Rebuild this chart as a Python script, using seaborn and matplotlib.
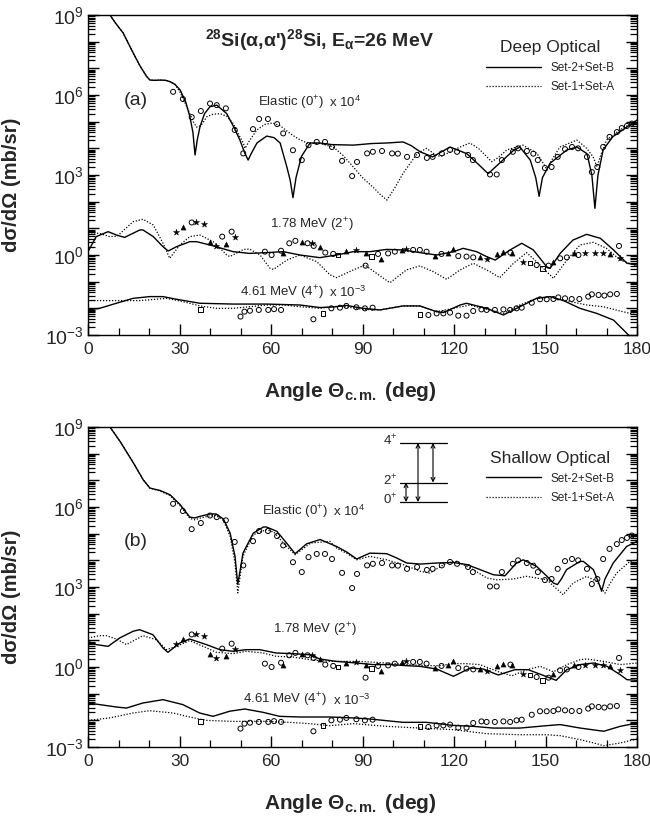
import numpy as np
import matplotlib
matplotlib.use("Agg")
import matplotlib.pyplot as plt
from matplotlib.ticker import FixedLocator, FuncFormatter, LogLocator, MultipleLocator, NullFormatter
import seaborn as sns

# all y values below are log10 of the plotted dsigma/dOmega (mb/sr), scaling factors included

# ---- experimental data (same in both panels) ----
el_ang = [27.9, 31.1, 34.0, 37.0, 40.0, 42.2, 45.2, 48.1, 50.9, 54.1, 56.1, 59.0, 62.0, 64.0, 67.2,
          70.1, 72.3, 75.0, 77.7, 80.0, 83.3, 86.6, 88.2, 91.5, 93.4, 96.4, 99.7, 101.6, 104.6, 107.9,
          111.1, 113.0, 116.0, 118.7, 121.0, 124.6, 126.2, 131.8, 134.0, 135.7, 139.3, 141.0, 143.9,
          146.0, 147.5, 149.8, 152.0, 154.0, 156.4, 158.7, 160.7, 163.6, 165.2, 167.0, 168.9, 171.0,
          173.4, 175.0, 176.7, 178.3]
el_log = [6.12, 5.85, 5.17, 5.4, 5.68, 5.62, 5.5, 4.69, 3.81, 4.72, 5.1, 5.1, 4.91, 4.56, 3.93,
          3.56, 4.12, 4.24, 4.24, 4.05, 3.53, 2.96, 3.49, 3.81, 3.87, 3.9, 3.81, 3.8, 3.68, 3.75,
          3.64, 3.68, 3.81, 3.94, 3.87, 3.75, 3.56, 3.02, 3.02, 3.56, 3.87, 4.0, 3.9,
          3.8, 3.56, 3.26, 3.3, 3.68, 3.97, 4.05, 4.0, 3.68, 3.11, 3.3, 4.05, 4.43,
          4.61, 4.76, 4.84, 4.93]

ex2_circ_ang = [34.0, 44.0, 47.1, 58.0, 60.2, 63.3, 66.0, 68.0, 72.0, 74.0, 77.8, 80.4, 91.0, 95.1,
                98.4, 100.6, 106.6, 108.8, 111.0, 115.9, 121.4, 124.1, 126.3, 138.5, 147.1, 151.0,
                154.8, 157.0, 160.8, 174.1]
ex2_circ_log = [1.22, 0.69, 0.875, 0.125, 0.0, 0.16, 0.44, 0.53, 0.44, 0.34, 0.09, 0.04, -0.4, 0.04,
                0.06, 0.125, 0.19, 0.19, 0.125, 0.04, -0.04, -0.06, -0.09, 0.09, -0.375, -0.4,
                -0.125, -0.09, 0.0, 0.34]
ex2_tri_ang = [31.0, 40.0, 45.2, 64.0, 70.0, 76.0, 84.7, 91.3, 96.2, 102.8, 113.7, 118.0, 119.8,
               128.5, 134.0, 136.2, 138.9, 152.6, 159.2, 171.2]
ex2_tri_log = [1.06, 0.5, 0.4, 0.06, 0.5, 0.3, 0.16, 0.09, -0.16, 0.19, -0.04, 0.09, 0.21,
               -0.09, 0.04, 0.125, 0.09, -0.25, 0.06, 0.04]
ex2_star_ang = [29.0, 35.3, 38.0, 42.0, 48.2, 73.4, 88.0, 104.4, 130.7, 142.7, 163.0, 166.3, 169.0, 174.4]
ex2_star_log = [0.85, 1.24, 1.15, 0.35, 0.66, 0.46, 0.19, 0.21, -0.14, -0.25, 0.06, 0.06, 0.06, -0.125]
ex2_sq_ang = [82.0, 93.0, 145.0, 149.0]
ex2_sq_log = [0.0, -0.06, -0.31, -0.5]

ex4_circ_ang = [50.0, 51.3, 53.1, 56.0, 59.1, 61.0, 63.3, 73.9, 79.8, 82.6, 84.7, 88.0, 90.8, 93.3,
                111.6, 114.3, 116.5, 118.7, 121.4, 124.1, 126.3, 129.0, 130.7, 133.4, 136.2, 138.4,
                140.5, 142.2, 145.5, 148.2, 150.4, 152.6, 154.2, 156.4, 158.6, 161.1, 164.0, 165.2,
                167.4, 169.3, 171.2, 173.4]
ex4_circ_log = [-2.31, -2.125, -2.09, -2.06, -2.06, -2.03, -2.06, -2.41, -2.0, -1.975, -1.91, -1.96, -2.0, -1.975,
                -2.25, -2.19, -2.19, -2.16, -2.275, -2.275, -2.1, -2.04, -2.06, -2.06, -2.04, -2.06,
                -2.0, -1.975, -1.79, -1.66, -1.66, -1.65, -1.59, -1.625, -1.65, -1.65, -1.56, -1.475,
                -1.5, -1.52, -1.475, -1.46]
ex4_sq_ang = [36.9, 77.0, 108.8]
ex4_sq_log = [-2.04, -2.19, -2.225]

# ---- (a) deep optical calculations ----
a_el_s2b_ang = [6, 7.2, 9, 11.5, 14.8, 17, 19.2, 20.3, 22, 23.6, 25.5, 26.9, 28.5, 30.2, 32, 33.4, 34.4,
                35.1, 35.8, 36.7, 38.2, 40, 42.2, 45.5, 48, 49.8, 51.5, 52.5, 53.5, 55.4, 58.6, 61, 63,
                65.2, 66.3, 67.2, 68.2, 70, 72.8, 76, 80, 87, 93, 98, 103.3, 106, 108.9, 113, 118.7,
                124.2, 128, 131.2, 135, 139.3, 141.6, 145, 146.8, 147.9, 149, 151.5, 157, 160.3, 163.6,
                165.2, 166.2, 167.2, 168.9, 172, 176.7, 180]
a_el_s2b_log = [9.3, 9.0, 8.7, 8.33, 7.58, 7.1, 6.7, 6.56, 6.55, 6.56, 6.55, 6.5, 6.4, 6.19, 5.75, 5.19, 4.6,
                3.75, 4.3, 4.8, 5.3, 5.56, 5.62, 5.3, 4.75, 4.31, 3.8, 3.56, 3.8, 4.2, 4.46, 4.4, 4.2,
                3.3, 2.8, 2.15, 2.9, 3.7, 4.2, 4.2, 4.14, 4.12, 4.18, 4.2, 4.24, 4.1, 3.87, 3.68, 4.05,
                3.8, 3.4, 3.05, 3.45, 3.9, 4.05, 3.56, 2.9, 2.2, 2.9, 3.44, 3.94, 4.05, 3.8,
                3.0, 1.75, 3.0, 3.94, 4.43, 4.8, 5.06]
a_el_s1a_ang = [6, 7.2, 9, 11.5, 14.8, 17, 19.2, 20.3, 22, 23.6, 25.5, 26.9, 28.5, 30.2, 32.4, 34.5, 35.6,
                37, 39, 41, 43.3, 45.5, 47.6, 49.5, 50.9, 51.5, 53, 55.4, 58, 60.5, 63, 66.2, 69, 71.8,
                76, 80.4, 83.5, 87, 90, 93.4, 96, 98, 100.5, 103.3, 107.9, 111, 114.4, 115.7, 118.5,
                122, 125.2, 128, 130.8, 132.3, 134.5, 137.3, 142.6, 147.2, 149.5, 150.5, 152, 154.7,
                160.3, 163.5, 165.6, 166.9, 168, 170, 174.4, 180]
a_el_s1a_log = [9.3, 9.0, 8.7, 8.33, 7.58, 7.1, 6.7, 6.56, 6.55, 6.56, 6.55, 6.5, 6.4, 6.1, 5.56, 5.0, 4.8,
                4.85, 5.19, 5.28, 5.3, 5.2, 4.93, 4.5, 4.2, 4.0, 4.3, 4.69, 4.9, 4.95, 4.85, 4.56, 4.35, 4.2,
                4.18, 4.05, 3.75, 3.3, 2.9, 2.55, 2.25, 2.06, 2.5, 3.06, 3.8, 4.0, 3.72, 3.7, 3.85,
                4.05, 4.2, 4.0, 3.68, 3.5, 3.65, 3.94, 4.12, 3.81, 3.4, 3.18, 3.55, 4.05,
                4.31, 4.0, 3.68, 3.31, 3.7, 4.31, 4.69, 5.06]
a_2p_s2b_ang = [0, 2.7, 6.6, 9.3, 12, 17, 18, 21.4, 24.6, 26.3, 29, 33.4, 35.6, 40, 47.6, 53, 58.6, 64,
                69.5, 76, 81.5, 87, 92.4, 97.9, 103.3, 108.8, 114.3, 119.8, 123, 127.4, 130.5, 133.5,
                138.4, 142.2, 146, 150.4, 151.5, 154.8, 159, 163.5, 168, 172.3, 176.7, 180]
a_2p_s2b_log = [0.125, 0.69, 0.875, 0.75, 0.66, 0.94, 0.94, 0.69, 0.31, 0.15, 0.31, 0.5, 0.5, 0.375, 0.125,
                0.06, 0.09, 0.125, 0.0, -0.1, 0.0, 0.125, 0.125, 0.21, 0.19, 0.09, 0.0, 0.125, 0.25,
                0.125, -0.05, -0.19, 0.19, 0.44, 0.19, -0.44, -0.5, 0.06, 0.56, 0.775, 0.625, 0.19,
                -0.31, -0.375]
a_2p_s1a_ang = [0, 3.8, 7.1, 9.5, 14.8, 18, 21.4, 24.6, 26.8, 30.1, 33.4, 36.7, 41, 45.5, 46.5, 51, 53,
                56.4, 59.7, 60.8, 65.2, 69.5, 75, 79.4, 81.5, 87, 90.8, 94.6, 99, 104.4, 108.8, 113.2,
                117.6, 122, 126.3, 131.8, 135, 139.5, 143.8, 148.2, 152.6, 157, 161.3, 165.7, 170,
                174.5, 180]
a_2p_s1a_log = [0.84, 0.81, 0.69, 0.7, 1.25, 1.34, 1.125, 0.44, -0.125, 0.375, 0.69, 0.75, 0.5, 0.0, -0.06,
                0.21, 0.22, 0.0, -0.5, -0.54, -0.19, 0.0, -0.25, -0.75, -0.85, -0.56, -0.375, -0.69,
                -1.04, -0.56, -0.41, -0.625, -0.91, -0.56, -0.31, -0.625, -0.85, -0.31, 0.09, -0.375,
                -0.875, -0.19, 0.375, 0.475, 0.25, -0.19, -0.41]
a_4p_s2b_ang = [0, 3.8, 9.3, 14.8, 20.3, 24.6, 29, 36.7, 47.6, 58.6, 69.5, 76, 81.5, 84.7, 90.2, 95.7,
                103.3, 108.8, 114.3, 116.5, 122, 124.1, 130.7, 136.2, 141.6, 147.1, 151.5, 155.9,
                161.3, 166.8, 172.3, 176.7, 179, 180]
a_4p_s2b_log = [-2.06, -2.0, -1.81, -1.625, -1.56, -1.56, -1.66, -1.81, -1.84, -1.84, -1.875, -1.97, -1.94,
                -1.89, -2.0, -2.06, -1.91, -1.91, -2.125, -2.16, -1.875, -1.81, -2.0, -2.25, -1.94,
                -1.625, -1.56, -1.71, -2.0, -2.19, -2.44, -2.94, -3.2, -3.3]
a_4p_s1a_ang = [0, 9.3, 17, 25.7, 31.2, 36.7, 42.2, 47.6, 53, 58.6, 64, 69.5, 76, 82.6, 90.2, 95.7, 103.3,
                108.8, 114.3, 119.8, 125.2, 130.7, 136.2, 141.6, 147.1, 151.5, 155.9, 163.5, 169,
                174.4, 180]
a_4p_s1a_log = [-1.71, -1.71, -1.71, -1.625, -1.75, -1.91, -2.0, -2.0, -1.94, -1.875, -1.875, -1.94, -2.0,
                -1.91, -2.04, -2.06, -1.91, -1.91, -2.125, -2.0, -1.875, -2.04, -2.19, -1.875, -1.625,
                -1.59, -1.69, -1.875, -1.94, -2.1, -2.25]

# ---- (b) shallow optical calculations ----
b_el_s2b_ang = [6, 7.2, 10.5, 14.9, 18.1, 20.3, 23.6, 26.9, 30.2, 33.4, 35, 36.7, 40, 42, 44.4, 46.6,
                48.2, 49.1, 50, 50.8, 54.2, 57.5, 58.5, 61.9, 65.1, 67.9, 71.7, 76.1, 81.5, 85, 88.1,
                92.4, 97.9, 101, 104.5, 108.9, 114.4, 119.8, 124.2, 128.6, 132.9, 136.7, 140.5, 142.7,
                147.1, 150.5, 152.6, 153.9, 155.2, 156.9, 161.3, 162.4, 165.7, 167.3, 168.4, 169.5,
                172.2, 176.6, 180]
b_el_s2b_log = [9.3, 9.0, 8.46, 7.65, 7.02, 6.71, 6.62, 6.46, 6.09, 5.62, 5.59, 5.65, 5.74, 5.74, 5.55, 5.02,
                4.15, 3.1, 3.7, 4.27, 5.02, 5.25, 5.25, 5.09, 4.65, 4.25, 4.62, 4.78, 4.52, 4.3, 4.05,
                4.27, 4.25, 4.1, 3.9, 3.86, 3.9, 3.92, 3.84, 3.65, 3.46, 3.42, 3.9, 4.02,
                3.77, 3.4, 3.15, 3.09, 3.3, 3.65, 3.96, 3.96, 3.65, 3.2, 2.84, 3.3,
                3.9, 4.52, 4.71]
b_el_s1a_ang = [6, 7.2, 10.5, 14.9, 18.1, 20.3, 23.6, 26.9, 30.2, 33.4, 35, 36.7, 40, 42, 44.4, 46.6,
                48.2, 49.1, 50, 50.8, 54.2, 58.5, 61, 64, 67.9, 73, 79.3, 81.5, 85, 88.1, 92.4, 97.9,
                103.3, 108.9, 112, 117.6, 120.9, 126.3, 130.7, 134, 139.4, 143.8, 150.4, 153, 155.8,
                157.5, 159.1, 163.5, 166.8, 169.5, 171, 173.3, 177.7, 180]
b_el_s1a_log = [9.3, 9.0, 8.46, 7.65, 7.02, 6.71, 6.6, 6.43, 6.05, 5.57, 5.52, 5.58, 5.67, 5.68, 5.5, 4.9,
                3.9, 2.78, 3.5, 4.15, 4.96, 5.15, 5.05, 4.65, 4.21, 4.65, 4.71, 4.46, 4.25, 4.02, 4.15, 4.02,
                3.84, 3.59, 3.52, 3.9, 3.96, 3.65, 3.34, 3.27, 3.3, 3.4, 3.27, 3.0, 2.71,
                2.95, 3.15, 3.4, 3.21, 2.77, 3.1, 3.52, 3.96, 4.02]
b_2p_s2b_ang = [0, 2.7, 6.6, 10.4, 14.8, 16.9, 21.3, 24.6, 26.2, 30.1, 33.3, 38.8, 43.2, 47.5, 51.9, 56.3,
                61.7, 67.2, 72.7, 76, 81.5, 88, 93.5, 99, 104.4, 108.8, 114.3, 119.8, 125.3, 129.6,
                134.5, 140, 144.3, 148.7, 153.5, 157, 161.4, 165.7, 170.2, 174.5, 176.7, 180]
b_2p_s2b_log = [0.96, 0.84, 0.775, 1.09, 1.34, 1.4, 1.21, 0.71, 0.55, 0.9, 1.05, 0.84, 0.65, 0.59, 0.65,
                0.65, 0.525, 0.5, 0.46, 0.3, 0.21, 0.15, 0.09, 0.09, 0.05, 0.025, -0.075, -0.35, -0.04,
                -0.075, -0.3, -0.1, -0.1, -0.29, -0.5, -0.1, 0.09, 0.15, 0.025, -0.29, -0.475, -0.5]
b_2p_s1a_ang = [0, 3.8, 6, 9.3, 12.6, 18, 22.4, 25.7, 29, 33.3, 37.7, 42.1, 47.5, 51.9, 57.4, 61.7, 67.2,
                72.7, 79.2, 82.6, 89.1, 97.9, 104.4, 111, 115.4, 119.8, 124.2, 128.5, 135.1, 139, 143.9,
                148.3, 152.6, 157, 161.4, 163.6, 169.1, 174.5, 180]
b_2p_s1a_log = [1.09, 1.175, 1.175, 1.05, 0.84, 1.175, 1.025, 0.65, 0.775, 0.99, 0.775, 0.55, 0.5, 0.59,
                0.525, 0.4, 0.375, 0.275, 0.21, 0.21, 0.21, 0.15, 0.09, 0.05, 0.05, 0.125, 0.125, 0.09,
                -0.2, -0.33, -0.1, 0.025, -0.18, 0.09, 0.275, 0.3, 0.21, 0.09, 0.15]
b_4p_s2b_ang = [0, 3.8, 9.3, 12.6, 18, 24.6, 31.1, 36.6, 41, 46.4, 51.4, 57.4, 62.8, 69.4, 79.2, 87, 92.4,
                103.3, 111, 119.8, 126.3, 132.8, 141.6, 150.4, 154.8, 161.4, 166.8, 169.1, 174.5, 180]
b_4p_s2b_log = [-1.35, -1.41, -1.5, -1.54, -1.35, -1.225, -1.41, -1.725, -1.85, -1.66, -1.575, -1.7, -1.85,
                -1.875, -1.875, -1.91, -1.95, -2.075, -2.075, -2.19, -2.225, -2.29, -2.29, -2.2, -2.16,
                -2.29, -2.375, -2.41, -2.225, -2.1]
b_4p_s1a_ang = [0, 7.1, 14.8, 20.2, 27.9, 33.3, 38.8, 47.5, 58.5, 66.1, 72.7, 79.2, 87, 97.9, 108.8, 119.8,
                130.7, 141.6, 150.4, 154.8, 161.4, 166.8, 169, 174.5, 180]
b_4p_s1a_log = [-2.0, -1.91, -1.725, -1.64, -1.725, -1.875, -2.0, -2.04, -2.04, -2.075, -2.125, -2.2,
                -2.125, -2.225, -2.29, -2.35, -2.5, -2.54, -2.54, -2.575, -2.725, -2.875, -2.95, -2.85, -2.7]

levels = ["0$^{+}$", "2$^{+}$", "4$^{+}$"]
level_y = [0.0, 0.33, 1.0]   # relative heights in the level scheme

sns.set_style("ticks")
plt.rcParams["font.family"] = ["Liberation Sans", "DejaVu Sans"]
plt.rcParams["mathtext.fontset"] = "custom"
plt.rcParams["mathtext.rm"] = "Liberation Sans"
plt.rcParams["mathtext.it"] = "Liberation Sans:italic"
plt.rcParams["mathtext.bf"] = "Liberation Sans:bold"

fig = plt.figure(figsize=(6.5, 8.23), dpi=100)
ax_a = fig.add_axes([88 / 650, 1 - 335 / 823, 549 / 650, 320 / 823])
ax_b = fig.add_axes([88 / 650, 1 - 747 / 823, 549 / 650, 320 / 823])

dots = (0, (1, 1.4))


def curve(ax, ang, lg, dotted=False, label=None):
    sns.lineplot(x=ang, y=10 ** np.array(lg), ax=ax, color="black", lw=0.9 if dotted else 1.0,
                 linestyle=dots if dotted else "-", estimator=None, sort=False, label=label)


def exp_points(ax):
    open_kw = dict(facecolor="none", edgecolor="black", linewidth=0.7, ax=ax, zorder=3)
    sns.scatterplot(x=el_ang, y=10 ** np.array(el_log), marker="o", s=13, **open_kw)
    sns.scatterplot(x=ex2_circ_ang, y=10 ** np.array(ex2_circ_log), marker="o", s=13, **open_kw)
    sns.scatterplot(x=ex2_sq_ang, y=10 ** np.array(ex2_sq_log), marker="s", s=10, **open_kw)
    sns.scatterplot(x=ex4_circ_ang, y=10 ** np.array(ex4_circ_log), marker="o", s=13, **open_kw)
    sns.scatterplot(x=ex4_sq_ang, y=10 ** np.array(ex4_sq_log), marker="s", s=10, **open_kw)
    sns.scatterplot(x=ex2_tri_ang, y=10 ** np.array(ex2_tri_log), marker="^", s=14, color="black",
                    edgecolor="black", linewidth=0.3, ax=ax, zorder=3)
    sns.scatterplot(x=ex2_star_ang, y=10 ** np.array(ex2_star_log), marker="*", s=22, color="black",
                    edgecolor="black", linewidth=0.3, ax=ax, zorder=3)


def style_axes(ax):
    ax.set_yscale("log")
    ax.set_xlim(0, 180)
    ax.set_ylim(1e-3, 1e9)
    ax.xaxis.set_major_locator(MultipleLocator(30))
    ax.xaxis.set_minor_locator(MultipleLocator(10))
    ax.yaxis.set_major_locator(FixedLocator(10.0 ** np.arange(-3, 10)))
    ax.yaxis.set_major_formatter(FuncFormatter(
        lambda v, p: r"10$^{%d}$" % round(np.log10(v)) if round(np.log10(v)) % 3 == 0 else ""))
    ax.yaxis.set_minor_locator(LogLocator(base=10, subs=np.arange(2, 10), numticks=100))
    ax.yaxis.set_minor_formatter(NullFormatter())
    ax.tick_params(which="both", direction="in", left=True, bottom=True, right=True, top=False,
                   color="black")
    ax.tick_params(which="major", length=8, width=1.0)
    ax.tick_params(which="minor", length=5, width=0.9)
    ax.tick_params(axis="x", which="major", labelsize=12.5, pad=5)
    ax.tick_params(axis="y", which="major", labelsize=14, pad=3)
    for sp in ax.spines.values():
        sp.set_visible(True)
        sp.set_linewidth(1.0)
        sp.set_color("black")
    ax.set_xlabel(r"Angle Θ$_{\mathbf{c.m.}}$ (deg)", fontsize=15, fontweight="bold")
    ax.xaxis.set_label_coords(0.477, -0.14)
    ax.set_ylabel("dσ/dΩ (mb/sr)", fontsize=14.5, fontweight="bold")
    ax.yaxis.set_label_coords(-0.122, 0.47)


for ax, tag, title, curves in [
    (ax_a, "(a)", "Deep Optical",
     [(a_el_s2b_ang, a_el_s2b_log, a_el_s1a_ang, a_el_s1a_log),
      (a_2p_s2b_ang, a_2p_s2b_log, a_2p_s1a_ang, a_2p_s1a_log),
      (a_4p_s2b_ang, a_4p_s2b_log, a_4p_s1a_ang, a_4p_s1a_log)]),
    (ax_b, "(b)", "Shallow Optical",
     [(b_el_s2b_ang, b_el_s2b_log, b_el_s1a_ang, b_el_s1a_log),
      (b_2p_s2b_ang, b_2p_s2b_log, b_2p_s1a_ang, b_2p_s1a_log),
      (b_4p_s2b_ang, b_4p_s2b_log, b_4p_s1a_ang, b_4p_s1a_log)])]:
    for i, (sx, sy, dx, dy) in enumerate(curves):
        curve(ax, sx, sy, label="Set-2+Set-B" if i == 0 else None)
        curve(ax, dx, dy, dotted=True, label="Set-1+Set-A" if i == 0 else None)
    exp_points(ax)
    style_axes(ax)
    h, l = ax.get_legend_handles_labels()
    leg = ax.legend(h[:2], l[:2], title=title, loc="upper left", frameon=False,
                    bbox_to_anchor=(0.715, 0.94 if tag == "(a)" else 0.945), borderpad=0,
                    handlelength=4.6, handletextpad=0.8, labelspacing=0.6, fontsize=8.5,
                    title_fontsize=12.5)
    ax.text(15.7, 10 ** 5.8 if tag == "(a)" else 10 ** 4.7, tag, fontsize=14, ha="center", va="center")

small = 9.5
# panel (a) labels
ax_a.text(76, 10 ** 8.05, r"$^{\mathbf{28}}$Si(α,α')$^{\mathbf{28}}$Si, E$_{\mathbf{α}}$=26 MeV",
          fontsize=14, fontweight="bold", ha="center", va="center")
ax_a.text(55.7, 10 ** 5.7, "Elastic (0$^{+}$)", fontsize=small, va="center")
ax_a.text(79.0, 10 ** 5.72, "x 10$^{4}$", fontsize=small, va="center")
ax_a.text(59.7, 10 ** 1.13, "1.78 MeV (2$^{+}$)", fontsize=small, va="center")
ax_a.text(49.8, 10 ** -1.42, "4.61 MeV (4$^{+}$)", fontsize=small, va="center")
ax_a.text(79.0, 10 ** -1.42, "x 10$^{-3}$", fontsize=small, va="center")

# panel (b) labels
ax_b.text(57, 10 ** 5.81, "Elastic (0$^{+}$)", fontsize=small, va="center")
ax_b.text(80.3, 10 ** 5.85, "x 10$^{4}$", fontsize=small, va="center")
ax_b.text(60.6, 10 ** 1.39, "1.78 MeV (2$^{+}$)", fontsize=small, va="center")
ax_b.text(50.8, 10 ** -1.24, "4.61 MeV (4$^{+}$)", fontsize=small, va="center")
ax_b.text(80.3, 10 ** -1.24, "x 10$^{-3}$", fontsize=small, va="center")

# level scheme inset in panel (b), axes-fraction coordinates
x0, x1 = (400 - 88) / 549, (447 - 88) / 549
yb, yt = 1 - (502 - 427) / 320, 1 - (443 - 427) / 320
ly = [yb + f * (yt - yb) for f in level_y]
for name, y in zip(levels, ly):
    ax_b.plot([x0, x1], [y, y], color="black", lw=0.9, transform=ax_b.transAxes)
    ax_b.text(x0 - 0.004, y + 0.006, name, fontsize=9.5, ha="right", va="center", transform=ax_b.transAxes)
arrow_kw = dict(arrowstyle="<->", color="black", lw=0.8, shrinkA=0, shrinkB=0, mutation_scale=7)
for xa, (ia, ib) in zip([(406 - 88) / 549, (418 - 88) / 549, (433 - 88) / 549], [(0, 1), (0, 2), (1, 2)]):
    ax_b.annotate("", xy=(xa, ly[ib]), xytext=(xa, ly[ia]), xycoords="axes fraction",
                  textcoords="axes fraction", arrowprops=arrow_kw)

fig.savefig("out.png", dpi=100)
